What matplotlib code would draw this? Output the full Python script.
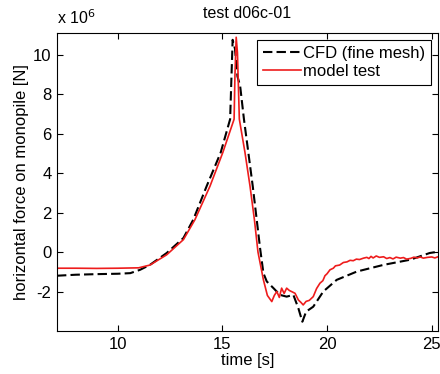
import matplotlib.pyplot as plt
import numpy as np

plt.rcParams['font.family'] = ['Liberation Sans', 'DejaVu Sans']

# CFD (fine mesh), time [s] and force [10^6 N]
t_cfd = [7.1, 8.0, 9.0, 10.0, 10.6, 11.07, 11.54, 12.34, 13.14, 13.61, 14.25, 14.92, 15.37,
         15.49, 15.60, 15.72, 15.85, 16.03, 16.24, 16.45, 16.64, 16.80, 16.96, 17.12, 17.44,
         17.75, 18.07, 18.39, 18.63, 18.82, 19.0, 19.34, 19.82, 20.46, 21.42, 22.7, 23.97,
         24.9, 25.2, 25.3]
f_cfd = [-1.2, -1.15, -1.12, -1.1, -1.07, -0.9, -0.65, -0.05, 0.71, 1.64, 3.34, 5.04, 6.73,
         10.75, 10.3, 8.9, 8.4, 6.73, 5.04, 3.34, 1.64, 0.2, -1.07, -1.49, -1.83,
         -2.17, -2.26, -2.17, -2.85, -3.53, -3.02, -2.77, -2.0, -1.41, -0.99, -0.65, -0.39,
         -0.05, 0.0, 0.02]

# model test
t_mod = [7.1, 8.0, 9.0, 10.0, 11.0, 11.54, 12.34, 13.14, 13.69, 14.41, 15.02, 15.56, 15.60,
         15.66, 15.72, 15.81, 16.08, 16.32, 16.53, 16.70, 16.96, 17.15, 17.36, 17.48, 17.6,
         17.72, 17.83, 17.95, 18.07, 18.2, 18.3, 18.47, 18.63, 18.75, 18.86, 19.0, 19.15,
         19.34, 19.5, 19.66, 19.8, 19.9, 20.0, 20.14, 20.3, 20.4, 20.6, 20.78, 20.95, 21.1,
         21.25, 21.4, 21.55, 21.74, 21.9, 22.0, 22.1, 22.2, 22.35, 22.5, 22.7, 22.85, 23.0,
         23.15, 23.3, 23.5, 23.65, 23.8, 24.0, 24.15, 24.3, 24.45, 24.6, 24.8, 25.0, 25.15,
         25.3]
f_mod = [-0.82, -0.82, -0.83, -0.82, -0.8, -0.66, -0.14, 0.63, 1.64, 3.34, 5.04, 6.73, 8.93,
         10.88, 10.1, 6.73, 5.04, 3.34, 1.64, 0.0, -1.41, -2.2, -2.51, -2.2, -2.0,
         -2.3, -1.83, -2.1, -1.83, -1.95, -2.0, -2.09, -2.43, -2.55, -2.68, -2.5, -2.45,
         -2.26, -1.85, -1.58, -1.45, -1.2, -1.1, -0.9, -0.82, -0.7, -0.66, -0.53, -0.5, -0.42,
         -0.44, -0.36, -0.38, -0.31, -0.27, -0.33, -0.22, -0.3, -0.2, -0.27, -0.24, -0.33, -0.28,
         -0.35, -0.26, -0.31, -0.28, -0.36, -0.32, -0.26, -0.3, -0.25, -0.31, -0.27, -0.25, -0.3,
         -0.24]

fig = plt.figure(figsize=(4.4, 3.74), dpi=100)
ax = fig.add_axes([0.1295, 0.115, 0.866, 0.797])

ax.plot(t_cfd, np.array(f_cfd) * 1e6, '--', color='black', lw=1.5, dashes=(4.5, 2),
        label='CFD (fine mesh)')
ax.plot(t_mod, np.array(f_mod) * 1e6, color='#ee1c1c', lw=1.2, label='model test')

ax.set_xlim(7.1, 25.3)
ax.set_ylim(-4e6, 11.1e6)
ax.set_xticks([10, 15, 20, 25])
ax.set_yticks(np.arange(-2, 11, 2) * 1e6)
ax.set_yticklabels(['-2', '0', '2', '4', '6', '8', '10'])
ax.tick_params(direction='in', top=True, right=True, labelsize=12, length=4, pad=4)
ax.text(0, 1.02, r'x 10$^6$', transform=ax.transAxes, fontsize=11.5, va='bottom')

ax.set_xlabel('time [s]', fontsize=12, labelpad=1)
ax.set_ylabel('horizontal force on monopile [N]', fontsize=12, labelpad=3)
ax.set_title('test d06c-01', fontsize=11.5, pad=11)

leg = ax.legend(loc='upper right', fontsize=12, fancybox=False, framealpha=1,
                edgecolor='black', handlelength=2.3, borderaxespad=0.45,
                handletextpad=0.1, labelspacing=0.15, borderpad=0.35)
leg.get_frame().set_linewidth(0.8)

fig.savefig('out.png', dpi=100)
